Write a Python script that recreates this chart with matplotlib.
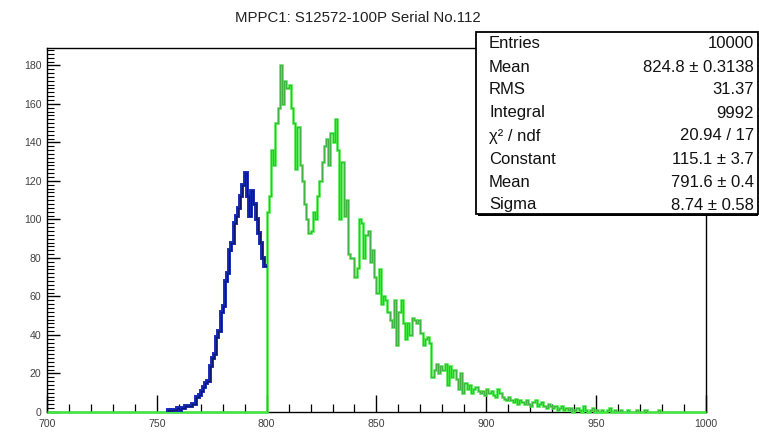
import numpy as np
import matplotlib

matplotlib.use('Agg')

import matplotlib.pyplot as plt
from matplotlib.patches import Rectangle
from matplotlib.ticker import MultipleLocator

plt.rcParams.update({
    'font.family': ['Liberation Sans', 'DejaVu Sans'],
    'font.size': 9,
    'axes.linewidth': 1.0,
})

# 1-unit bins from 700 to 1000
edges = np.arange(700, 1001, 1)

# fit range part of the histogram (700-799), nonzero from 754
blue_start = 754
blue_counts = [0, 1, 0, 1, 1, 2, 1, 2, 2, 3,
               3, 3, 4, 4, 8, 9, 11, 13, 15, 16,
               24, 28, 30, 39, 42, 52, 55, 68, 72, 84,
               88, 98, 102, 106, 112, 118, 124, 112, 102, 115,
               108, 100, 93, 88, 80, 76]

# remaining part of the histogram (800-999)
green_start = 800
green_counts = [104, 112, 136, 128, 150, 158, 180, 160, 172, 168,
                170, 158, 150, 126, 148, 128, 120, 108, 100, 93,
                94, 104, 100, 112, 120, 130, 138, 142, 128, 145,
                140, 152, 136, 100, 130, 102, 110, 82, 80, 80,
                70, 75, 100, 98, 80, 92, 94, 78, 84, 70,
                62, 74, 56, 60, 58, 52, 48, 44, 58, 35,
                52, 58, 46, 38, 46, 40, 49, 48, 46, 48,
                41, 35, 38, 39, 36, 18, 22, 25, 20, 24,
                22, 25, 14, 24, 18, 22, 17, 12, 20, 10,
                15, 12, 14, 10, 12, 13, 11, 10, 11, 9,
                12, 10, 11, 9, 8, 12, 10, 8, 7, 6,
                8, 6, 5, 7, 4, 6, 5, 4, 6, 4,
                3, 5, 6, 3, 4, 5, 3, 2, 4, 3,
                2, 3, 1, 2, 3, 1, 2, 1, 2, 0,
                1, 2, 1, 0, 3, 1, 0, 1, 2, 0,
                1, 0, 1, 0, 0, 1, 2, 0, 1, 0,
                0, 1, 0, 0, 1, 0, 0, 0, 1, 0,
                0, 0, 1, 0, 0, 0, 0, 0, 1, 0]

stat_names = ['Entries', 'Mean', 'RMS', 'Integral', 'χ² / ndf',
              'Constant', 'Mean', 'Sigma']
stat_values = ['10000', '824.8 ± 0.3138', '31.37', '9992', '20.94 / 17',
               '115.1 ± 3.7', '791.6 ± 0.4', '8.74 ± 0.58']

title = 'MPPC1: S12572-100P Serial No.112'

blue = np.zeros(300)
blue[blue_start - 700:blue_start - 700 + len(blue_counts)] = blue_counts
green = np.zeros(300)
green[green_start - 700:green_start - 700 + len(green_counts)] = green_counts

fig = plt.figure(figsize=(7.59, 4.33), dpi=100)
ax = fig.add_axes([0.0619, 0.0485, 0.8682, 0.8406])

# full histogram in green, zero bins run along the axis
ax.stairs(green, edges, color='#40e840', linewidth=1.8, baseline=None,
          zorder=3, clip_on=False)
ax.stairs(green, edges, color='#4a5a4a', linewidth=0.5, alpha=0.55,
          baseline=None, zorder=3)
# blue part only over its own range
bsl = slice(blue_start - 700, 100)
ax.stairs(blue[bsl], edges[blue_start - 700:101], color='#1428b0',
          linewidth=2.8, baseline=None, zorder=4)
ax.stairs(blue[bsl], edges[blue_start - 700:101], color='#0a0a40',
          linewidth=0.6, alpha=0.7, baseline=None, zorder=4)

ax.set_xlim(700, 1000)
ax.set_ylim(0, 189)

ax.xaxis.set_major_locator(MultipleLocator(50))
ax.xaxis.set_minor_locator(MultipleLocator(10))
ax.yaxis.set_major_locator(MultipleLocator(20))
ax.yaxis.set_minor_locator(MultipleLocator(2))
ax.tick_params(axis='both', which='both', direction='in', colors='black',
               labelcolor='#404040', labelsize=7.6)
ax.tick_params(axis='x', which='major', length=12, width=1.0, pad=5)
ax.tick_params(axis='x', which='minor', length=6, width=0.9)
ax.tick_params(axis='y', which='major', length=9, width=1.0, pad=4)
ax.tick_params(axis='y', which='minor', length=5, width=0.8)

fig.text(358 / 759, 1 - 18 / 433, title, ha='center', va='center',
         fontsize=10.8, color='#222222')

# statistics box
bx0, by0 = 476 / 759, 1 - 214 / 433
bw, bh = (758 - 476) / 759, (214 - 32) / 433
fig.patches.append(Rectangle((bx0, by0), bw, bh, transform=fig.transFigure,
                             facecolor='white', edgecolor='black',
                             linewidth=1.3, zorder=5))
fig.patches.append(Rectangle((bx0 + 0.002, by0 - 0.004), bw - 0.002, 0.004,
                             transform=fig.transFigure, facecolor='black',
                             edgecolor='none', zorder=5))
row_h = 23.0
for i, (name, val) in enumerate(zip(stat_names, stat_values)):
    yy = 1 - (44 + i * row_h) / 433
    fig.text(489 / 759, yy, name, ha='left', va='center', fontsize=12,
             color='#111111', zorder=6)
    fig.text(754 / 759, yy, val, ha='right', va='center', fontsize=12,
             color='#111111', zorder=6)

fig.savefig('out.png', dpi=100)
